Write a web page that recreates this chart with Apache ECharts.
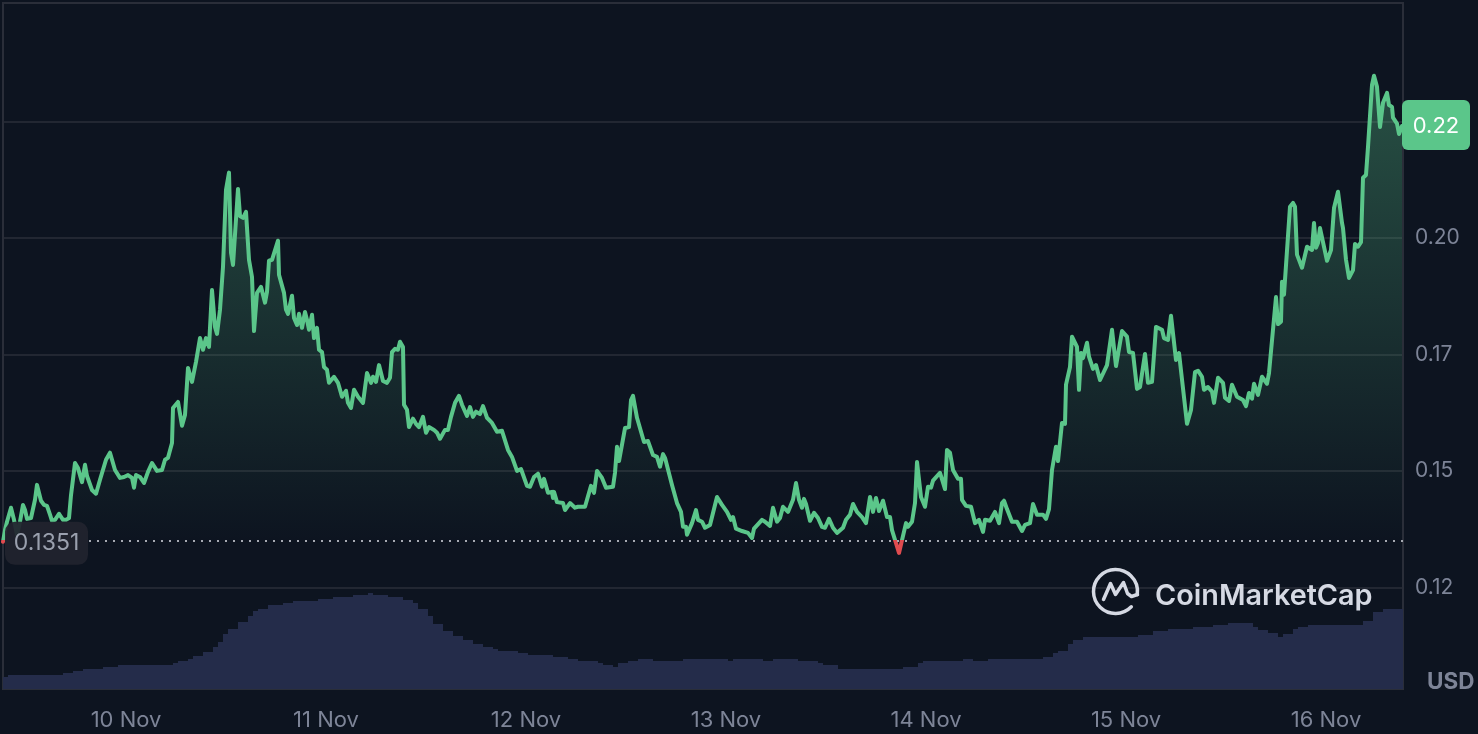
<!DOCTYPE html>
<html>
<head>
<meta charset="utf-8">
<title>Price chart</title>
<script src="https://cdn.jsdelivr.net/npm/echarts@6/dist/echarts.min.js"></script>
<style>
  html, body { margin: 0; padding: 0; background: #0d1420; }
  #chart { width: 1478px; height: 734px; }
</style>
</head>
<body>
<div id="chart"></div>
<script>
// hours counted from 10 Nov 00:00
const priceHours = [
  -14.76, -14.52, -14.28, -13.8, -13.44, -13.08, -12.72, -12.36, -12.12, -11.88, -11.4, -10.92, -10.68, -10.2, -9.84, -9.48,
  -9.12, -8.88, -8.52, -8.04, -7.56, -7.2, -6.84, -6.6, -6.12, -5.76, -5.28, -4.92, -4.68, -4.08, -3.6, -3.12,
  -2.4, -1.92, -1.32, -0.72, -0.24, 0.24, 0.72, 0.96, 1.2, 1.68, 2.16, 2.64, 3.12, 3.72, 4.32, 4.68,
  5.04, 5.52, 5.64, 6.24, 6.72, 7.08, 7.44, 7.92, 8.4, 8.64, 8.88, 9.24, 9.6, 9.96, 10.32, 10.68,
  10.92, 11.28, 11.64, 12, 12.36, 12.6, 12.84, 13.44, 13.68, 14.04, 14.4, 14.76, 15.12, 15.36, 15.72, 16.2,
  16.44, 16.68, 16.92, 17.16, 17.52, 18.24, 18.36, 18.96, 19.2, 19.44, 19.92, 20.16, 20.52, 20.76, 21.12, 21.48,
  21.72, 21.96, 22.32, 22.56, 22.92, 23.16, 23.52, 23.76, 24.12, 24.36, 24.96, 25.44, 25.92, 26.4, 26.64, 27,
  27.36, 27.84, 28.44, 28.92, 29.4, 29.64, 30, 30.36, 30.84, 31.32, 31.68, 31.92, 32.28, 32.64, 32.88, 33.24,
  33.36, 33.72, 33.96, 34.2, 34.44, 34.8, 35.16, 35.64, 36, 36.36, 36.96, 37.32, 37.68, 38.28, 38.64, 39,
  39.24, 39.48, 39.96, 40.32, 40.92, 41.28, 41.64, 42, 42.48, 42.84, 43.32, 43.92, 44.52, 45.12, 45.36, 45.84,
  46.32, 46.92, 47.4, 48.12, 48.48, 48.96, 49.44, 49.92, 50.16, 50.64, 51.12, 51.24, 51.36, 51.72, 52.44, 52.68,
  53.28, 53.88, 54.24, 55.08, 55.8, 56.16, 56.52, 57.12, 57.6, 58.44, 58.68, 58.92, 59.16, 59.88, 60.36, 60.6,
  60.84, 61.32, 62.16, 62.64, 63.24, 63.72, 64.08, 64.44, 64.68, 65.52, 66.12, 66.6, 66.84, 67.2, 67.32, 67.92,
  68.4, 68.64, 69.12, 69.48, 70.08, 70.92, 71.52, 72.12, 72.6, 72.84, 73.2, 73.92, 74.64, 75.12, 75.36, 76.32,
  76.68, 77.28, 77.64, 77.88, 78.12, 78.48, 78.84, 79.44, 80.04, 80.4, 80.76, 81.12, 81.36, 81.6, 82.08, 82.56,
  83.04, 83.52, 83.88, 84.36, 84.84, 85.32, 86.04, 86.4, 86.88, 87.24, 87.72, 88.32, 88.8, 89.28, 89.64, 90,
  90.36, 90.84, 91.32, 91.68, 91.92, 92.76, 93.6, 93.84, 94.32, 94.68, 94.92, 95.4, 95.64, 95.88, 96.24, 96.6,
  96.84, 97.68, 98.28, 98.52, 98.88, 99.24, 99.84, 100.2, 100.32, 100.8, 101.4, 101.88, 102.36, 102.84, 103.08, 103.68,
  104.28, 104.76, 105.12, 105.36, 105.72, 106.32, 106.92, 107.52, 107.88, 108.48, 108.84, 109.32, 110.04, 110.4, 110.76, 111.12,
  111.6, 111.84, 112.32, 112.68, 112.8, 113.28, 113.52, 114.12, 114.36, 114.6, 114.84, 115.32, 115.56, 116.04, 116.4, 116.88,
  117.72, 118.32, 118.8, 119.52, 120.12, 120.36, 120.84, 121.32, 121.68, 122.28, 122.64, 123.12, 123.6, 123.84, 124.32, 124.56,
  125.04, 125.4, 126, 126.36, 127.32, 127.8, 128.28, 128.64, 129.12, 129.36, 129.84, 130.32, 130.56, 130.8, 131.04, 131.64,
  131.88, 132.36, 132.72, 133.32, 134.04, 134.4, 134.76, 135.12, 135.36, 135.84, 136.32, 136.92, 137.16, 137.64, 138, 138.24,
  138.6, 138.72, 138.96, 139.2, 139.68, 140.04, 140.28, 140.52, 141.12, 141.36, 141.72, 142.32, 142.56, 142.8, 143.04, 143.28,
  144.12, 144.6, 144.96, 145.44, 145.92, 146.04, 146.4, 146.76, 147.24, 147.48, 147.84, 148.2, 148.44, 148.8, 149.04, 149.52,
  149.76, 150.12, 150.48, 150.84, 151.32, 151.56, 151.92, 152.04, 152.52, 152.76, 153.12
];

const prices = [
  0.1348, 0.1373, 0.1391, 0.1421, 0.1395, 0.1363, 0.1391, 0.1427, 0.1416, 0.1397, 0.1399, 0.1438, 0.147, 0.1436, 0.1427, 0.1425,
  0.1406, 0.1393, 0.1395, 0.1408, 0.1395, 0.1395, 0.1399, 0.1448, 0.1517, 0.1506, 0.1476, 0.1513, 0.1489, 0.1459, 0.1451, 0.1481,
  0.1524, 0.1539, 0.1502, 0.1485, 0.1487, 0.1491, 0.1485, 0.1464, 0.1491, 0.1487, 0.1474, 0.1498, 0.1517, 0.15, 0.1502, 0.1524,
  0.1528, 0.156, 0.1635, 0.1648, 0.1597, 0.162, 0.1721, 0.1691, 0.1734, 0.1734, 0.1785, 0.176, 0.1785, 0.1766, 0.1888, 0.1809,
  0.1794, 0.1846, 0.1938, 0.2103, 0.214, 0.1968, 0.1942, 0.2105, 0.2047, 0.2043, 0.2056, 0.1953, 0.1916, 0.18, 0.1882, 0.1895,
  0.1897, 0.1861, 0.1884, 0.1951, 0.1953, 0.1994, 0.1921, 0.1882, 0.1846, 0.1837, 0.1876, 0.1828, 0.1813, 0.1837, 0.1807, 0.1841,
  0.1824, 0.1803, 0.1835, 0.1785, 0.1807, 0.176, 0.1755, 0.1723, 0.1717, 0.1689, 0.1702, 0.1689, 0.1659, 0.1672, 0.1646, 0.1635,
  0.1674, 0.1659, 0.1646, 0.171, 0.1689, 0.1702, 0.1691, 0.1727, 0.1693, 0.1689, 0.17, 0.1755, 0.1762, 0.176, 0.1777, 0.1766,
  0.1642, 0.1631, 0.1594, 0.1592, 0.1612, 0.1601, 0.1594, 0.1616, 0.1582, 0.1594, 0.1588, 0.1582, 0.1569, 0.1588, 0.1588, 0.1616,
  0.1618, 0.1646, 0.1661, 0.1642, 0.1618, 0.1637, 0.1616, 0.1627, 0.1622, 0.1639, 0.1614, 0.1603, 0.1584, 0.1586, 0.1588, 0.1545,
  0.153, 0.15, 0.1504, 0.1468, 0.1466, 0.1487, 0.1494, 0.1466, 0.1483, 0.1453, 0.1455, 0.1442, 0.1455, 0.1433, 0.1431, 0.1416,
  0.1431, 0.1421, 0.1423, 0.1423, 0.1468, 0.1453, 0.15, 0.1485, 0.1464, 0.1466, 0.1496, 0.1552, 0.1521, 0.1592, 0.1594, 0.1652,
  0.1661, 0.1614, 0.1562, 0.1564, 0.1534, 0.153, 0.1509, 0.1536, 0.1528, 0.147, 0.1431, 0.1412, 0.138, 0.138, 0.1363, 0.1388,
  0.1416, 0.1395, 0.1391, 0.1378, 0.1384, 0.1444, 0.1427, 0.1412, 0.1395, 0.1401, 0.1376, 0.1371, 0.1367, 0.1356, 0.1376, 0.1395,
  0.1391, 0.1382, 0.1421, 0.1425, 0.1391, 0.1399, 0.1423, 0.1412, 0.1438, 0.1474, 0.1438, 0.1421, 0.144, 0.1429, 0.1393, 0.141,
  0.1399, 0.138, 0.1378, 0.1397, 0.1378, 0.1367, 0.1378, 0.1395, 0.1406, 0.1429, 0.1412, 0.1401, 0.1388, 0.1444, 0.1412, 0.1442,
  0.1414, 0.1436, 0.1401, 0.1401, 0.1373, 0.1324, 0.1388, 0.138, 0.1391, 0.1431, 0.1519, 0.1444, 0.1444, 0.1423, 0.1466, 0.1464,
  0.1479, 0.1496, 0.1461, 0.1545, 0.1539, 0.1502, 0.1483, 0.1483, 0.1438, 0.1425, 0.1423, 0.1388, 0.1395, 0.1369, 0.1395, 0.1393,
  0.1412, 0.1388, 0.1431, 0.1436, 0.1418, 0.1391, 0.1391, 0.1371, 0.1384, 0.1388, 0.1429, 0.1406, 0.1406, 0.1397, 0.1418, 0.1502,
  0.1552, 0.1521, 0.1603, 0.1601, 0.1685, 0.1723, 0.1788, 0.1766, 0.1674, 0.1753, 0.1742, 0.1775, 0.1745, 0.1719, 0.1727, 0.1695,
  0.1727, 0.1803, 0.1725, 0.18, 0.1788, 0.1755, 0.1753, 0.1676, 0.168, 0.1751, 0.1689, 0.1691, 0.1809, 0.1811, 0.1803, 0.1785,
  0.1781, 0.1833, 0.1738, 0.1753, 0.1601, 0.1631, 0.1712, 0.1715, 0.1702, 0.1674, 0.168, 0.167, 0.1646, 0.1648, 0.17, 0.1689,
  0.1657, 0.165, 0.1685, 0.1659, 0.1652, 0.1639, 0.1667, 0.1655, 0.1687, 0.1663, 0.1702, 0.1687, 0.171, 0.1803, 0.1873, 0.1815,
  0.182, 0.1906, 0.1878, 0.1878, 0.2067, 0.2075, 0.2067, 0.1964, 0.1936, 0.1936, 0.1981, 0.1974, 0.2032, 0.1979, 0.1989, 0.2021,
  0.1951, 0.1974, 0.2064, 0.2099, 0.2032, 0.2021, 0.1953, 0.1914, 0.1931, 0.1987, 0.1981, 0.1991, 0.2129, 0.2135, 0.2195, 0.2328,
  0.2348, 0.2324, 0.2238, 0.229, 0.2311, 0.2285, 0.2281, 0.2258, 0.2245, 0.2223, 0.224
];

// volume bars, one every 36 minutes, in millions of USD
const firstVolumeHour = -14.46;
const volumeStepHours = 0.6;
const volumes = [
  120, 140, 140, 140, 140, 140, 140, 140, 140, 140, 140, 140, 160, 160, 180, 180, 200, 200, 200, 200,
  220, 220, 220, 240, 240, 240, 240, 240, 240, 240, 240, 240, 240, 240, 260, 280, 280, 300, 330, 330,
  370, 370, 420, 470, 550, 600, 600, 670, 670, 730, 780, 800, 800, 840, 840, 840, 860, 860, 880, 880,
  880, 880, 880, 900, 900, 900, 920, 920, 920, 920, 940, 940, 940, 960, 940, 940, 940, 920, 920, 920,
  890, 890, 860, 800, 800, 730, 650, 650, 580, 580, 530, 530, 490, 490, 450, 450, 420, 420, 400, 380,
  380, 380, 380, 360, 360, 340, 340, 340, 340, 340, 320, 320, 320, 300, 300, 280, 280, 280, 280, 260,
  240, 240, 220, 260, 260, 280, 280, 300, 300, 300, 280, 280, 280, 280, 280, 280, 300, 300, 300, 300,
  300, 300, 300, 300, 300, 280, 300, 300, 300, 300, 300, 300, 280, 280, 300, 300, 300, 300, 300, 280,
  280, 280, 280, 260, 240, 240, 240, 200, 200, 200, 200, 200, 200, 200, 200, 200, 200, 200, 200, 200,
  220, 220, 220, 260, 280, 280, 280, 280, 280, 280, 280, 280, 300, 300, 280, 280, 280, 300, 300, 300,
  300, 300, 300, 300, 300, 300, 300, 300, 320, 320, 360, 380, 380, 450, 490, 490, 520, 520, 520, 520,
  520, 520, 520, 520, 520, 520, 520, 540, 540, 540, 580, 580, 580, 600, 600, 600, 600, 600, 620, 620,
  620, 620, 640, 640, 640, 660, 660, 660, 660, 660, 620, 590, 590, 560, 560, 520, 550, 550, 600, 620,
  620, 640, 640, 640, 640, 640, 640, 640, 640, 640, 640, 640, 680, 680, 770, 770, 800, 800, 800, 800
];

const baselinePrice = 0.1351;
const baselineLabel = '0.1351';
const currentPriceLabel = '0.22';

const dayHours = [0, 24, 48, 72, 96, 120, 144];
const dayLabels = ['10 Nov', '11 Nov', '12 Nov', '13 Nov', '14 Nov', '15 Nov', '16 Nov'];
const priceTicks = [0.125, 0.15, 0.175, 0.2, 0.225];
const priceTickLabels = ['0.12', '0.15', '0.17', '0.20', '0.22'];

const GREEN = '#5bc68a';
const RED = '#e04b4f';
const GRID_LINE = '#2a2e39';
const AXIS_TEXT = '#7d8497';
const LOGO = '#d5d9e3';
const FONT = 'Inter, "Noto Sans", sans-serif';

const chart = echarts.init(document.getElementById('chart'), null, { renderer: 'canvas' });

const lastHour = priceHours[priceHours.length - 1];
const lastPrice = prices[prices.length - 1];

// a tag is drawn as two marks so the text can sit a little below the box centre
function tagBox(coord, offset, width, height, radius, color) {
  return {
    coord,
    label: {
      show: true,
      position: 'inside',
      offset,
      formatter: ' ',
      width,
      height,
      align: 'center',
      verticalAlign: 'middle',
      borderRadius: radius,
      backgroundColor: color
    }
  };
}

function tagText(coord, offset, text, color, fontSize) {
  return {
    coord,
    label: {
      show: true,
      position: 'inside',
      offset,
      formatter: text,
      color,
      fontFamily: FONT,
      fontSize,
      align: 'center',
      verticalAlign: 'middle'
    }
  };
}

const option = {
  animation: false,
  backgroundColor: '#0d1420',
  grid: {
    left: 3,
    right: 75,
    top: 3,
    bottom: 45,
    show: true,
    borderColor: GRID_LINE,
    borderWidth: 2,
    backgroundColor: 'transparent'
  },
  xAxis: {
    type: 'value',
    min: -14.76,
    max: 153.24,
    axisLine: { show: false },
    axisTick: { show: false, customValues: dayHours },
    splitLine: { show: false },
    axisLabel: {
      customValues: dayHours,
      margin: 20,
      color: AXIS_TEXT,
      fontFamily: FONT,
      fontSize: 22,
      formatter: (value) => dayLabels[dayHours.indexOf(value)]
    }
  },
  yAxis: [
    {
      type: 'value',
      position: 'right',
      min: 0.1032,
      max: 0.2504,
      axisLine: { show: false },
      axisTick: { show: false, customValues: priceTicks },
      splitLine: { show: true, lineStyle: { color: GRID_LINE, width: 1.5 } },
      axisLabel: {
        // the top tick label sits under the current price tag
        customValues: priceTicks.slice(0, 4),
        margin: 12,
        color: AXIS_TEXT,
        fontFamily: FONT,
        fontSize: 21,
        formatter: (value) => priceTickLabels[priceTicks.indexOf(value)]
      }
    },
    {
      type: 'value',
      show: false,
      min: 0,
      max: 6860,
      splitLine: { show: false }
    }
  ],
  visualMap: {
    show: false,
    type: 'piecewise',
    seriesIndex: 1,
    dimension: 1,
    pieces: [
      { gt: baselinePrice, lte: 1, color: GREEN },
      { gte: 0, lte: baselinePrice, color: RED }
    ]
  },
  series: [
    {
      name: 'Volume',
      type: 'bar',
      yAxisIndex: 1,
      barWidth: 5,
      silent: true,
      itemStyle: { color: '#242c4a' },
      data: volumes.map((v, i) => [firstVolumeHour + i * volumeStepHours, v])
    },
    {
      name: 'Price',
      type: 'line',
      showSymbol: false,
      smooth: false,
      sampling: false,
      silent: true,
      lineStyle: { width: 4, join: 'round', cap: 'round' },
      areaStyle: {
        origin: baselinePrice,
        color: new echarts.graphic.LinearGradient(0, 76, 0, 541, [
          { offset: 0, color: 'rgba(91, 198, 138, 0.34)' },
          { offset: 1, color: 'rgba(91, 198, 138, 0)' }
        ], true),
        opacity: 1
      },
      data: priceHours.map((h, i) => [h, prices[i]]),
      markLine: {
        silent: true,
        symbol: 'none',
        label: { show: false },
        lineStyle: { color: '#a6aab2', type: [2, 6], width: 2 },
        data: [[{ coord: [-4.44, baselinePrice] }, { coord: [153.24, baselinePrice] }]]
      },
      markPoint: {
        silent: true,
        symbol: 'circle',
        symbolSize: 1,
        itemStyle: { color: 'transparent' },
        data: [
          tagBox([-9.54, baselinePrice], [0, 3], 83, 43, 10, 'rgba(33, 36, 46, 0.93)'),
          tagText([-9.54, baselinePrice], [0, 3], baselineLabel, '#9aa0ae', 23),
          tagBox([lastHour, lastPrice], [34, -1], 68, 50, 6, GREEN),
          tagText([lastHour, lastPrice], [34, 0], currentPriceLabel, '#ffffff', 22)
        ]
      }
    }
  ],
  graphic: [
    {
      type: 'arc',
      x: 1115.5,
      y: 591.5,
      z: 100,
      shape: { cx: 0, cy: 0, r: 22, startAngle: 0.77, endAngle: 6.42, clockwise: true },
      style: { stroke: LOGO, fill: 'none', lineWidth: 3.5, lineCap: 'round' }
    },
    {
      type: 'polyline',
      x: 1115.5,
      y: 591.5,
      z: 100,
      shape: { points: [[-12, 8], [-5, -8], [0, 3], [8, -9], [12, 2], [16, 5], [22, 3]] },
      style: { stroke: LOGO, fill: 'none', lineWidth: 3.5, lineCap: 'round', lineJoin: 'round' }
    },
    {
      type: 'text',
      x: 1155,
      y: 596,
      z: 100,
      style: {
        text: 'CoinMarketCap',
        fill: LOGO,
        font: '600 28.8px Inter, sans-serif',
        textVerticalAlign: 'middle'
      }
    },
    {
      type: 'text',
      x: 1427,
      y: 682,
      z: 100,
      style: {
        text: 'USD',
        fill: AXIS_TEXT,
        font: '700 22.5px Inter, sans-serif',
        textVerticalAlign: 'middle'
      }
    }
  ]
};

chart.setOption(option);
</script>
</body>
</html>
